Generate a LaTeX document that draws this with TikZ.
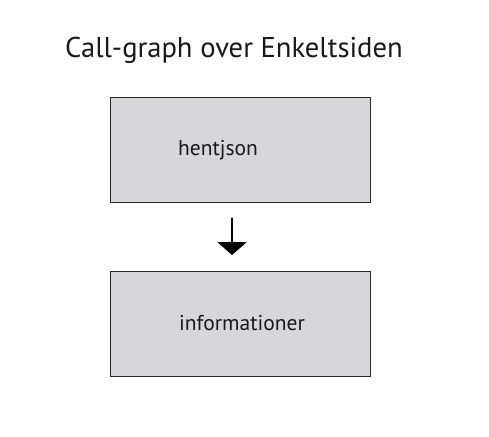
\documentclass[tikz,border=0pt]{standalone}
\usepackage{fontspec}
\setmainfont{PT Sans}
\usetikzlibrary{arrows.meta}
\definecolor{boxgray}{RGB}{215,214,217}
\definecolor{edgegray}{RGB}{40,40,40}
\tikzset{
  callbox/.style={draw=edgegray,line width=0.9pt,fill=boxgray,minimum width=260pt,minimum height=105pt,inner sep=0pt},
  calltext/.style={anchor=base,font=\fontsize{21.5}{24}\selectfont,text=black!90},
  callarrow/.style={line width=2pt,-{Triangle[width=29pt,length=13pt]}}
}
\begin{document}
\begin{tikzpicture}[line cap=round,line join=round,x=1pt,y=1pt]
			\useasboundingbox (0,0) rectangle (489,436);
			\node[anchor=base west,font=\fontsize{28.6}{32}\selectfont,text=black!90,inner sep=0pt] (title) at (65,378) {Call-graph over Enkeltsiden};
			\node[callbox] (hent) at (240,286.5) {};
			\node[callbox] (info) at (240,112) {};
			\node[calltext] (henttext) at (218,280.5) {hentjson};
			\node[calltext] (infotext) at (242,105.5) {informationer};
			\draw[callarrow] ([xshift=-8pt,yshift=-16pt]hent.south) -- ([xshift=-8pt,yshift=16pt]info.north);
		\end{tikzpicture}
\end{document}
